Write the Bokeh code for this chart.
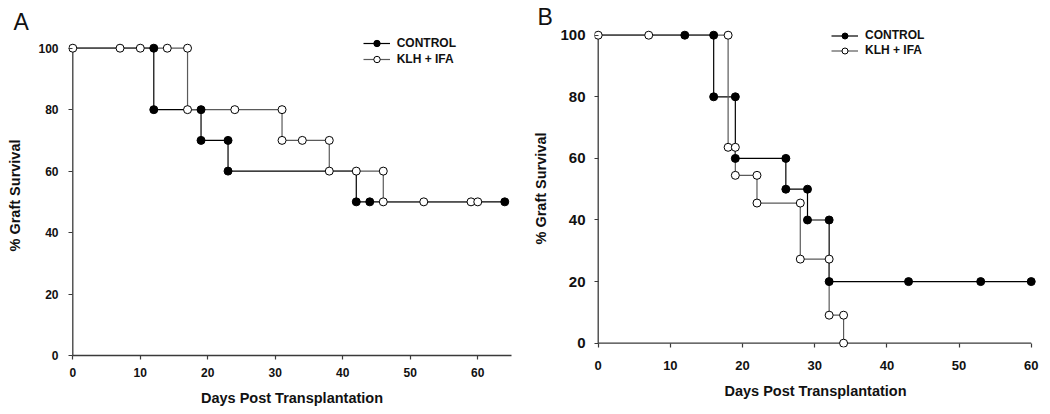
from bokeh.plotting import figure
from bokeh.layouts import row
from bokeh.models import Legend, LegendItem, SingleIntervalTicker, Range1d
from bokeh.embed import file_html
from bokeh.resources import INLINE

# ---------------- Panel A data ----------------
a_ctrl_step_t = [0, 12, 19, 23, 42, 64]
a_ctrl_step_s = [100, 80, 70, 60, 50, 50]
a_ctrl_mark_t = [12, 12, 19, 19, 23, 23, 42, 44, 64]
a_ctrl_mark_s = [100, 80, 80, 70, 70, 60, 50, 50, 50]
a_klh_step_t = [0, 17, 31, 38, 46, 60]
a_klh_step_s = [100, 80, 70, 60, 50, 50]
a_klh_mark_t = [0, 7, 10, 14, 17, 17, 24, 31, 31, 34, 38, 38, 42, 46, 46, 52, 59, 60]
a_klh_mark_s = [100, 100, 100, 100, 100, 80, 80, 80, 70, 70, 70, 60, 60, 60, 50, 50, 50, 50]

# ---------------- Panel B data ----------------
b_ctrl_step_t = [0, 16, 19, 26, 29, 32, 60]
b_ctrl_step_s = [100, 80, 60, 50, 40, 20, 20]
b_ctrl_mark_t = [12, 16, 16, 19, 19, 26, 26, 29, 29, 32, 32, 43, 53, 60]
b_ctrl_mark_s = [100, 100, 80, 80, 60, 60, 50, 50, 40, 40, 20, 20, 20, 20]
b_klh_step_t = [0, 18, 19, 22, 28, 32, 34]
b_klh_step_s = [100, 63.6, 54.5, 45.5, 27.3, 9.1, 0]
b_klh_mark_t = [0, 7, 18, 18, 19, 19, 22, 22, 28, 28, 32, 32, 34, 34]
b_klh_mark_s = [100, 100, 100, 63.6, 63.6, 54.5, 54.5, 45.5, 45.5, 27.3, 27.3, 9.1, 9.1, 0]

series_names = ["CONTROL", "KLH + IFA"]
x_label = "Days Post Transplantation"
y_label = "% Graft Survival"
a_x_axis_max = 65
b_x_axis_max = 60
y_axis_max = 100

FONT = "Liberation Sans"
CTRL_COLOR = "#000000"
KLH_COLOR = "#5a5a5a"
AXIS_COLOR = "#3a3a3a"
TEXT_COLOR = "#111111"


def make_panel(letter, ctrl_step, ctrl_mark, klh_step, klh_mark, cfg):
    p = figure(width=cfg["width"], height=cfg["height"], output_backend="svg",
               toolbar_location=None, frame_align=False,
               x_range=Range1d(*cfg["xr"]), y_range=Range1d(*cfg["yr"]),
               min_border_left=cfg["borders"][0], min_border_right=cfg["borders"][1],
               min_border_top=cfg["borders"][2], min_border_bottom=cfg["borders"][3])
    p.outline_line_color = None
    p.grid.visible = False
    p.background_fill_color = "white"
    p.border_fill_color = "white"

    # panel letter as title
    p.title.text = letter
    p.title.align = "left"
    p.title.offset = cfg["title_offset"]
    p.title.standoff = cfg["title_standoff"]
    p.title.vertical_align = "bottom"
    p.title.text_font = FONT
    p.title.text_font_style = "normal"
    p.title.text_font_size = "23px"
    p.title.text_color = TEXT_COLOR

    # axis lines drawn at the data origin
    p.segment(x0=[0], y0=[0], x1=[0], y1=[y_axis_max], line_color=AXIS_COLOR, line_width=1.3)
    if cfg["draw_x_line"]:
        p.segment(x0=[0], y0=[0], x1=[cfg["x_axis_max"]], y1=[0],
                  line_color=AXIS_COLOR, line_width=1.3)

    r_cl = p.step(ctrl_step[0], ctrl_step[1], mode="after", line_color=CTRL_COLOR, line_width=1.2)
    r_kl = p.step(klh_step[0], klh_step[1], mode="after", line_color=KLH_COLOR, line_width=1.2)
    r_cm = p.scatter(ctrl_mark[0], ctrl_mark[1], marker="circle", size=8,
                     fill_color="black", line_color="black", line_width=1)
    r_km = p.scatter(klh_mark[0], klh_mark[1], marker="circle", size=8,
                     fill_color="white", line_color="black", line_width=1)

    xa = p.xaxis[0]
    ya = p.yaxis[0]
    for ax in (xa, ya):
        ax.major_tick_line_color = AXIS_COLOR
        ax.major_tick_line_width = 1.2
        ax.minor_tick_line_color = None
        ax.major_label_text_font = FONT
        ax.major_label_text_font_style = "bold"
        ax.major_label_text_color = TEXT_COLOR
        ax.axis_label_text_font = FONT
        ax.axis_label_text_font_style = "bold"
        ax.axis_label_text_font_size = "14.5px"
        ax.axis_label_text_color = TEXT_COLOR

    xa.ticker = SingleIntervalTicker(interval=10)
    ya.ticker = SingleIntervalTicker(interval=20)
    xa.bounds = (0, cfg["x_axis_max"])
    ya.bounds = (0, y_axis_max)
    xa.axis_label = x_label
    ya.axis_label = y_label
    xa.major_label_text_font_size = cfg["xtick_size"]
    ya.major_label_text_font_size = cfg["ytick_size"]

    # y axis: ticks reach from frame edge to the axis line at x = 0
    ya.axis_line_color = None
    ya.major_tick_in = 4
    ya.major_tick_out = 0
    ya.major_label_standoff = cfg["y_std"]
    ya.axis_label_standoff = cfg["y_lab_std"]

    if cfg["draw_x_line"]:
        xa.axis_line_color = None
        xa.major_tick_in = 4
        xa.major_tick_out = 0
    else:
        xa.axis_line_color = AXIS_COLOR
        xa.axis_line_width = 1.3
        xa.major_tick_in = 0
        xa.major_tick_out = 4
    xa.major_label_standoff = cfg["x_std"]
    xa.axis_label_standoff = cfg["x_lab_std"]

    rh = cfg["legend_row"]
    legend = Legend(items=[LegendItem(label=series_names[0], renderers=[r_cl, r_cm]),
                           LegendItem(label=series_names[1], renderers=[r_kl, r_km])],
                    location=cfg["legend_loc"], padding=0, margin=0, spacing=0,
                    glyph_width=27, glyph_height=rh, label_height=rh, label_standoff=7,
                    label_text_font=FONT, label_text_font_style="bold",
                    label_text_font_size="12px", label_text_color=TEXT_COLOR,
                    background_fill_alpha=0, border_line_color=None)
    p.add_layout(legend)
    return p


cfg_a = dict(width=524, height=410, borders=(68, 9, 35, 55),
             xr=(-0.637, 65.59), yr=(0, 104.13), x_axis_max=a_x_axis_max,
             draw_x_line=False, xtick_size="12px", ytick_size="12px",
             y_std=6, y_lab_std=12, x_std=8, x_lab_std=10,
             legend_loc=(294.7, 287.7), legend_row=16,
             title_offset=-55, title_standoff=2)

cfg_b = dict(width=526, height=410, borders=(70, 14, 29, 63),
             xr=(-0.513, 60.73), yr=(-1.396, 101.85), x_axis_max=b_x_axis_max,
             draw_x_line=True, xtick_size="13px", ytick_size="15px",
             y_std=5, y_lab_std=8, x_std=9, x_lab_std=10,
             legend_loc=(237, 289.2), legend_row=15,
             title_offset=-57, title_standoff=0)

pa = make_panel("A", (a_ctrl_step_t, a_ctrl_step_s), (a_ctrl_mark_t, a_ctrl_mark_s),
                (a_klh_step_t, a_klh_step_s), (a_klh_mark_t, a_klh_mark_s), cfg_a)
pb = make_panel("B", (b_ctrl_step_t, b_ctrl_step_s), (b_ctrl_mark_t, b_ctrl_mark_s),
                (b_klh_step_t, b_klh_step_s), (b_klh_mark_t, b_klh_mark_s), cfg_b)

layout = row(pa, pb)
open("out.html", "w").write(file_html(layout, INLINE))
